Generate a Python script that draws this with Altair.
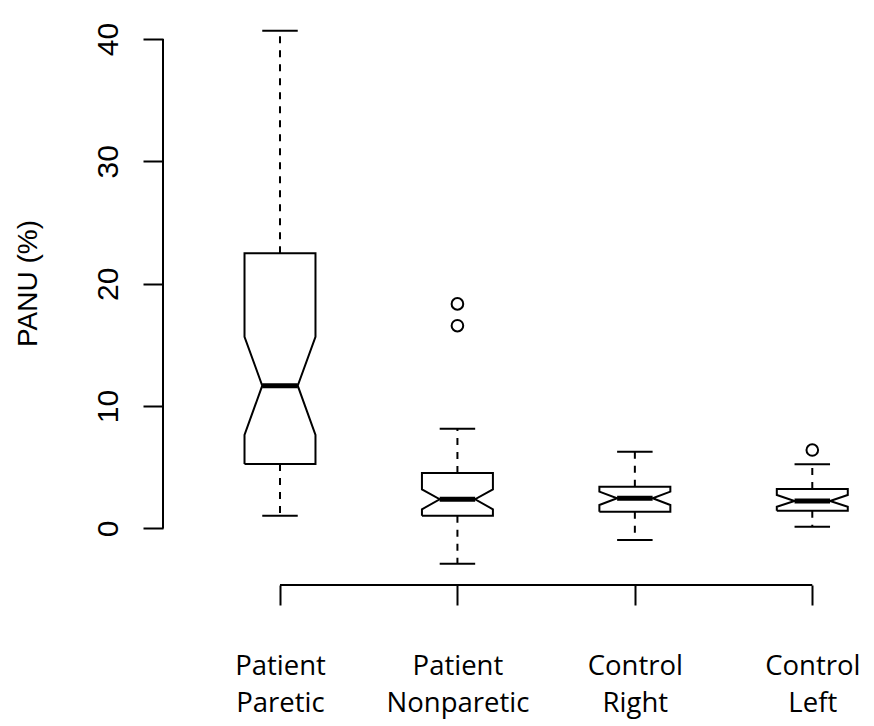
import json
import altair as alt
import pandas as pd

# ---- data ----
categories = [["Patient", "Paretic"], ["Patient", "Nonparetic"],
              ["Control", "Right"], ["Control", "Left"]]
positions = [1, 2, 3, 4]
whisker_lo = [1.05, -2.88, -0.94, 0.15]
q1 = [5.27, 1.05, 1.37, 1.45]
notch_lo = [7.64, 1.57, 1.92, 1.78]
median = [11.67, 2.39, 2.47, 2.25]
notch_hi = [15.67, 3.20, 3.01, 2.74]
q3 = [22.49, 4.54, 3.42, 3.23]
whisker_hi = [40.68, 8.16, 6.28, 5.25]
outlier_pos = [2, 2, 4]
outlier_val = [18.35, 16.57, 6.41]
y_ticks = [0, 10, 20, 30, 40]

# ---- style constants ----
HALF_W = 0.2      # half box width (x units)
NOTCH_W = 0.1     # half width at the notch / staple
X_DOMAIN = [0.3406, 4.3027]
Y_DOMAIN = [-4.617, 42.45]

# box outline polygons
poly_rows = []
for i, p in enumerate(positions):
    pts = [(p - HALF_W, q1[i]), (p - HALF_W, notch_lo[i]), (p - NOTCH_W, median[i]),
           (p - HALF_W, notch_hi[i]), (p - HALF_W, q3[i]), (p + HALF_W, q3[i]),
           (p + HALF_W, notch_hi[i]), (p + NOTCH_W, median[i]), (p + HALF_W, notch_lo[i]),
           (p + HALF_W, q1[i]), (p - HALF_W, q1[i])]
    for k, (x, y) in enumerate(pts):
        poly_rows.append({"g": i, "o": k, "x": x, "y": y})
poly = pd.DataFrame(poly_rows)

med = pd.DataFrame({"x": [p - NOTCH_W for p in positions],
                    "x2": [p + NOTCH_W for p in positions], "y": median})
whisk = pd.DataFrame({"x": positions * 2, "y": q3 + q1, "y2": whisker_hi + whisker_lo})
staple = pd.DataFrame({"x": [p - NOTCH_W for p in positions] * 2,
                       "x2": [p + NOTCH_W for p in positions] * 2,
                       "y": whisker_hi + whisker_lo})
outl = pd.DataFrame({"x": outlier_pos, "y": outlier_val})
yline = pd.DataFrame({"x": [X_DOMAIN[0]], "y": [min(y_ticks)], "y2": [max(y_ticks)]})
xline = pd.DataFrame({"x": [min(positions)], "x2": [max(positions)], "y": [Y_DOMAIN[0]]})

label_expr = json.dumps(categories) + "[datum.value - 1]"

X_SCALE = alt.Scale(domain=X_DOMAIN, nice=False, zero=False)
Y_SCALE = alt.Scale(domain=Y_DOMAIN, nice=False, zero=False)
X_AXIS = alt.Axis(values=positions, labelExpr=label_expr, title=None, domain=False,
                  grid=False, ticks=True, tickSize=20, tickWidth=2, tickColor="black",
                  labelFont="Open Sans", labelFontSize=27.5, labelColor="black",
                  labelBaseline="alphabetic", labelPadding=69, labelLineHeight=37,
                  labelAlign="center", labelFlush=False, labelOverlap=False, labelBound=False)
Y_AXIS = alt.Axis(values=y_ticks, title="PANU (%)", domain=False, grid=False,
                  ticks=True, tickSize=20, tickWidth=2, tickColor="black",
                  labelFont="Liberation Sans", labelFontSize=30, labelColor="black",
                  labelAngle=270, labelAlign="center", labelBaseline="alphabetic",
                  labelPadding=26, labelFlush=False, labelOverlap=False, labelBound=False,
                  titleFont="Liberation Sans", titleFontSize=28, titleFontWeight="normal",
                  titleColor="black", titleAngle=270, titleAlign="center",
                  titleBaseline="middle", titleX=-134.5, titleY=274)


def X(field="x"):
    return alt.X(f"{field}:Q", scale=X_SCALE, axis=X_AXIS)


def Y(field="y"):
    return alt.Y(f"{field}:Q", scale=Y_SCALE, axis=Y_AXIS)


boxes = alt.Chart(poly).mark_line(color="black", strokeWidth=2).encode(
    x=X(), y=Y(), order="o:Q", detail="g:N")
medians = alt.Chart(med).mark_rule(color="black", strokeWidth=5, strokeCap="butt").encode(
    x=X(), x2="x2:Q", y=Y())
whiskers = alt.Chart(whisk).mark_rule(color="black", strokeWidth=2, strokeDash=[7, 7]).encode(
    x=X(), y=Y(), y2="y2:Q")
staples = alt.Chart(staple).mark_rule(color="black", strokeWidth=2).encode(
    x=X(), x2="x2:Q", y=Y())
outliers = alt.Chart(outl).mark_point(shape="circle", filled=False, size=135,
                                      strokeWidth=2, color="black", opacity=1).encode(
    x=X(), y=Y())
yaxis_line = alt.Chart(yline).mark_rule(color="black", strokeWidth=2).encode(
    x=X(), y=Y(), y2="y2:Q")
xaxis_line = alt.Chart(xline).mark_rule(color="black", strokeWidth=2).encode(
    x=X(), x2="x2:Q", y=Y())

chart = alt.layer(whiskers, staples, boxes, medians, outliers, yaxis_line, xaxis_line).properties(
    width=703, height=576,
    autosize=alt.AutoSizeParams(type="none"),
    padding={"left": 155, "top": 1, "right": 0, "bottom": 140},
    background="white",
).configure_view(stroke=None)

chart.save("out.html", embed_options={"renderer": "svg", "actions": False})
